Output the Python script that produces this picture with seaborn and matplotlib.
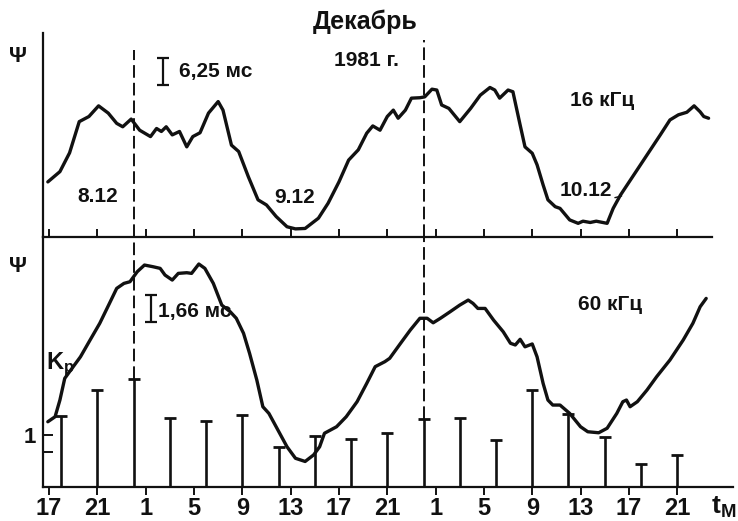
import matplotlib
matplotlib.use("Agg")
import matplotlib.pyplot as plt
import seaborn as sns

# ---- data (time in hours from 00:00 local time, 8 Dec 1981) ----
t16 = [16.9, 17.9, 18.7, 19.5, 20.3, 21.1, 21.9, 22.6, 23.1, 23.8, 24.5, 25.4, 25.9, 26.3, 26.7,
       27.2, 27.8, 28.4, 28.9, 29.5, 30.2, 31.0, 31.4, 32.1, 32.7, 33.5, 34.3, 35.0, 35.8, 36.7,
       37.4, 38.2, 39.3, 40.1, 41.0, 41.8, 42.6, 43.3, 43.8, 44.4, 45.0, 45.5, 45.9, 46.5, 47.0,
       47.7, 48.1, 48.7, 49.1, 49.5, 50.1, 51.0, 51.9, 52.7, 53.5, 53.9, 54.3, 55.0, 55.4, 56.0,
       56.4, 57.0, 57.4, 57.9, 58.3, 58.9, 59.3, 60.1, 60.8, 61.2, 61.8, 62.3, 63.2, 63.7, 64.3,
       65.4, 66.5, 67.6, 68.4, 69.1, 69.8, 70.4, 70.9, 71.2, 71.6]
phi16 = [12.9, 15.3, 19.7, 27.0, 28.2, 30.7, 29.0, 26.6, 25.8, 27.6, 25.0, 23.5, 25.4, 24.7, 25.8,
         23.9, 24.7, 21.1, 23.5, 24.4, 29.0, 31.7, 29.7, 21.5, 20.0, 14.1, 8.7, 7.5, 4.8, 2.4,
         1.9, 2.0, 4.4, 7.9, 12.9, 18.0, 20.4, 24.3, 26.0, 25.0, 28.2, 29.7, 27.8, 29.7, 32.5,
         32.6, 32.8, 34.6, 34.4, 30.9, 30.1, 27.0, 30.1, 33.2, 35.0, 34.4, 32.5, 34.4, 34.0, 26.2,
         21.1, 19.6, 16.9, 12.2, 8.7, 7.1, 6.7, 4.0, 3.2, 3.7, 3.4, 3.7, 3.2, 6.7, 9.8,
         14.5, 19.2, 23.9, 27.4, 28.6, 29.2, 30.7, 29.3, 28.2, 27.8]

t60 = [16.9, 17.5, 17.9, 18.3, 18.7, 19.6, 20.4, 21.2, 22.0, 22.6, 23.2, 23.7, 24.3, 24.9, 25.6,
       26.2, 26.6, 27.2, 27.7, 28.4, 28.8, 29.4, 29.9, 30.6, 31.3, 32.0, 32.5, 33.1, 33.6, 34.2,
       34.7, 35.2, 35.8, 36.7, 37.4, 38.2, 38.9, 39.4, 39.8, 40.8, 41.6, 42.5, 43.3, 44.0, 44.8,
       45.2, 46.1, 46.9, 47.7, 48.3, 48.8, 49.4, 50.2, 51.0, 51.7, 52.1, 52.5, 53.1, 53.8, 54.6,
       55.2, 55.6, 56.0, 56.4, 57.0, 57.4, 57.9, 58.3, 58.7, 59.3, 60.1, 61.0, 61.6, 62.5, 63.2,
       64.0, 64.5, 64.8, 65.1, 65.7, 66.5, 67.3, 68.4, 69.5, 70.3, 70.9, 71.4]
phi60 = [3.91, 4.21, 5.21, 6.51, 6.91, 7.80, 8.81, 9.81, 11.00, 11.90, 12.20, 12.30, 12.90, 13.30, 13.20,
         13.10, 12.70, 12.40, 12.80, 12.84, 12.80, 13.36, 13.10, 12.20, 10.90, 10.50, 10.11, 9.21, 8.01, 6.41,
         4.81, 4.41, 3.61, 2.41, 1.72, 1.53, 1.92, 2.41, 3.22, 3.61, 4.21, 5.11, 6.21, 7.21, 7.51,
         7.71, 8.61, 9.40, 10.11, 10.11, 9.84, 10.11, 10.50, 10.90, 11.20, 11.00, 10.70, 10.70, 10.00, 9.30,
         8.61, 8.51, 8.85, 8.40, 8.57, 7.80, 6.21, 5.21, 4.91, 4.91, 4.41, 3.61, 3.31, 3.25, 3.52,
         4.41, 5.11, 5.21, 4.81, 5.11, 5.81, 6.61, 7.61, 8.81, 9.81, 10.80, 11.30]

kp_t = [18, 21, 24, 27, 30, 33, 36, 39, 42, 45, 48, 51, 54, 57, 60, 63, 66, 69]
kp = [1.36, 1.87, 2.07, 1.32, 1.26, 1.39, 0.77, 0.98, 0.93, 1.04, 1.30, 1.33, 0.91, 1.87, 1.41, 0.96, 0.45, 0.62]

tick_hours = [17, 21, 25, 29, 33, 37, 41, 45, 49, 53, 57, 61, 65, 69]
tick_labels = ["17", "21", "1", "5", "9", "13", "17", "21", "1", "5", "9", "13", "17", "21"]
midnights = [24, 48]
dash_top = [43.8, 46.1]
kp_ticks = [2 / 3, 1]
kp_ticklabels = ["", "1"]

# ---- style ----
sns.set_style("white")
plt.rcParams["font.family"] = ["Liberation Sans", "DejaVu Sans"]
plt.rcParams["font.weight"] = "bold"
plt.rcParams["mathtext.default"] = "regular"
INK = "#111111"

W, H = 738, 521
fig = plt.figure(figsize=(W / 100, H / 100), dpi=100)

def fx(x):
    return x / W

def fy(y):
    return 1 - y / H

xl = (16.5, 73.62)
ax_top = fig.add_axes([fx(43), fy(237), fx(733) - fx(43), fy(33) - fy(237)])
ax_bot = fig.add_axes([fx(43), fy(487), fx(733) - fx(43), fy(237) - fy(487)])
ax_ph = ax_bot.twinx()

for a in (ax_top, ax_bot, ax_ph):
    a.set_xlim(*xl)
    a.set_facecolor("none")
    for s in a.spines.values():
        s.set_visible(False)

ax_top.set_ylim(0, 47.75)
ax_bot.set_ylim(0, 4.808)
ax_ph.set_ylim(0, 14.98)

# spines
ax_top.spines["left"].set_visible(True)
ax_top.spines["bottom"].set_visible(True)
ax_top.spines["bottom"].set_bounds(16.5, 71.9)
ax_bot.spines["left"].set_visible(True)
ax_bot.spines["bottom"].set_visible(True)
for a in (ax_top, ax_bot):
    for k in ("left", "bottom"):
        a.spines[k].set_linewidth(1.6)
        a.spines[k].set_color(INK)

# ticks
ax_top.set_xticks(tick_hours)
ax_top.set_xticklabels([])
ax_top.tick_params(axis="x", direction="in", length=6, width=1.4, color=INK, bottom=True)
ax_top.set_yticks([])
ax_bot.set_xticks(tick_hours)
ax_bot.set_xticklabels(tick_labels, fontsize=17, fontweight="bold", color=INK)
ax_bot.tick_params(axis="x", direction="out", length=6, width=1.4, color=INK, pad=1, bottom=True)
ax_bot.set_yticks(kp_ticks)
ax_bot.set_yticklabels(kp_ticklabels, fontsize=16, fontweight="bold", color=INK)
ax_bot.tick_params(axis="y", direction="in", length=7, width=1.4, color=INK, pad=5, left=True)
ax_ph.set_yticks([])

# curves
sns.lineplot(x=t16, y=phi16, ax=ax_top, color=INK, linewidth=2.4, estimator=None, sort=False)
sns.lineplot(x=t60, y=phi60, ax=ax_ph, color=INK, linewidth=2.4, estimator=None, sort=False)

# Kp bars
ax_bot.vlines(kp_t, 0, kp, color=INK, linewidth=1.9)
ax_bot.plot(kp_t, kp, ls="none", marker="_", ms=9, mew=2.0, color=INK)

# midnight dashed lines
dash = (0, (6.5, 2.6))
for m, top in zip(midnights, dash_top):
    k = kp[kp_t.index(m)]
    ax_top.vlines(m, 0, top, color=INK, linewidth=1.4, linestyles=[dash])
    ax_bot.vlines(m, k, 4.808, color=INK, linewidth=1.4, linestyles=[dash])

# scale bars
ax_top.errorbar([26.4], [38.7], yerr=[3.125], fmt="none", ecolor=INK, elinewidth=1.6, capsize=4, capthick=1.6)
ax_ph.errorbar([25.4], [10.69], yerr=[0.83], fmt="none", ecolor=INK, elinewidth=1.6, capsize=4, capthick=1.6)

# texts
txt = dict(color=INK, fontweight="bold")
fig.text(fx(365), fy(22), "Декабрь", fontsize=18, ha="center", va="center", **txt)
fig.text(fx(366), fy(61), "1981 г.", fontsize=15, ha="center", va="center", **txt)
fig.text(fx(18), fy(57), "Ψ", fontsize=16, ha="center", va="center", **txt)
fig.text(fx(18), fy(266), "Ψ", fontsize=16, ha="center", va="center", **txt)
fig.text(fx(179), fy(71), "6,25 мс", fontsize=15, ha="left", va="center", **txt)
fig.text(fx(98), fy(196), "8.12", fontsize=15, ha="center", va="center", **txt)
fig.text(fx(295), fy(197), "9.12", fontsize=15, ha="center", va="center", **txt)
fig.text(fx(602), fy(101), "16 кГц", fontsize=15, ha="center", va="center", **txt)
fig.text(fx(610), fy(305), "60 кГц", fontsize=15, ha="center", va="center", **txt)
fig.text(fx(158), fy(311), "1,66 мс", fontsize=15, ha="left", va="center", **txt)
fig.text(fx(46), fy(364), r"$K_p$", fontsize=17, ha="left", va="center", **txt)
fig.text(fx(711), fy(507), r"$t_М$", fontsize=19, ha="left", va="center", **txt)
ax_top.annotate("10.12", xy=(64.4, 9.6), xytext=(61.4, 10.8), textcoords="data",
                fontsize=15, ha="center", va="center", color=INK, fontweight="bold",
                arrowprops=dict(arrowstyle="-", color=INK, lw=1.0, relpos=(1, 0.1), shrinkA=0, shrinkB=0))

fig.savefig("out.png", dpi=100, facecolor="white")
